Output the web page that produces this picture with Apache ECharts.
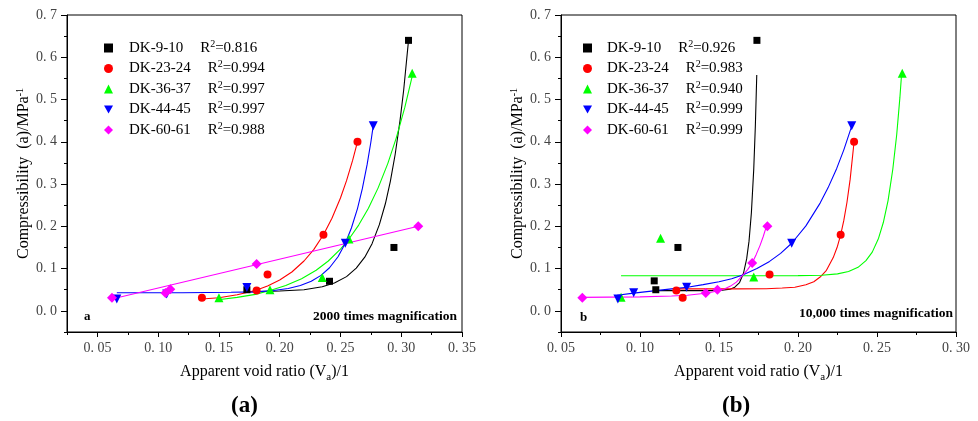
<!DOCTYPE html>
<html><head><meta charset="utf-8">
<script src="https://cdn.jsdelivr.net/npm/echarts@6/dist/echarts.min.js"></script>
<style>html,body{margin:0;padding:0;background:#fff}#c{width:978px;height:421px}</style>
</head><body><div id="c"></div>
<script>
// ---------- data ----------
const seriesNames = ['DK-9-10','DK-23-24','DK-36-37','DK-44-45','DK-60-61'];
const r2A = ['0.816','0.994','0.997','0.997','0.988'];
const r2B = ['0.926','0.983','0.940','0.999','0.999'];

// panel (a) measured points [void ratio, compressibility]
const ptsA_9  = [[0.306,0.64],[0.294,0.15],[0.241,0.07],[0.173,0.05]];
const ptsA_23 = [[0.264,0.40],[0.236,0.18],[0.190,0.086],[0.181,0.048],[0.136,0.031]];
const ptsA_36 = [[0.309,0.562],[0.257,0.17],[0.235,0.079],[0.192,0.05],[0.150,0.031]];
const ptsA_44 = [[0.277,0.438],[0.254,0.16],[0.173,0.055],[0.107,0.04],[0.066,0.028]];
const ptsA_60 = [[0.314,0.20],[0.181,0.111],[0.110,0.051],[0.106,0.042],[0.062,0.031]];
// panel (a) fitted curves
const fitA_9  = [[0.173,0.045],[0.20,0.047],[0.22,0.050],[0.235,0.057],[0.245,0.066],[0.255,0.081],[0.263,0.101],[0.270,0.127],[0.276,0.159],[0.282,0.204],[0.287,0.254],[0.291,0.306],[0.295,0.370],[0.299,0.450],[0.302,0.522],[0.306,0.64]];
const fitA_23 = [[0.136,0.028],[0.15,0.031],[0.165,0.038],[0.18,0.048],[0.19,0.059],[0.20,0.073],[0.21,0.092],[0.22,0.118],[0.228,0.145],[0.236,0.18],[0.243,0.219],[0.25,0.267],[0.255,0.308],[0.26,0.356],[0.264,0.40]];
const fitA_36 = [[0.151,0.027],[0.165,0.032],[0.18,0.039],[0.192,0.048],[0.205,0.060],[0.218,0.076],[0.23,0.096],[0.24,0.118],[0.25,0.146],[0.257,0.17],[0.265,0.203],[0.273,0.243],[0.281,0.291],[0.289,0.349],[0.296,0.410],[0.303,0.482],[0.309,0.555]];
const fitA_44 = [[0.066,0.043],[0.12,0.043],[0.16,0.044],[0.18,0.045],[0.195,0.048],[0.207,0.053],[0.217,0.060],[0.226,0.070],[0.234,0.084],[0.241,0.102],[0.248,0.128],[0.254,0.16],[0.259,0.196],[0.264,0.242],[0.268,0.289],[0.272,0.347],[0.275,0.399],[0.277,0.439]];
const fitA_60 = [[0.062,0.028],[0.314,0.20]];

// panel (b) measured points
const ptsB_9  = [[0.174,0.64],[0.124,0.15],[0.109,0.071],[0.110,0.05]];
const ptsB_23 = [[0.2355,0.40],[0.227,0.18],[0.182,0.086],[0.123,0.048],[0.127,0.031]];
const ptsB_36 = [[0.266,0.562],[0.113,0.172],[0.172,0.08],[0.088,0.032]];
const ptsB_44 = [[0.234,0.438],[0.196,0.16],[0.1295,0.056],[0.096,0.043],[0.086,0.028]];
const ptsB_60 = [[0.1806,0.20],[0.171,0.113],[0.149,0.05],[0.1416,0.042],[0.0635,0.031]];
// panel (b) fitted curves
const fitB_9  = [[0.109,0.048],[0.13,0.048],[0.145,0.048],[0.152,0.049],[0.157,0.051],[0.160,0.056],[0.163,0.067],[0.1655,0.089],[0.1675,0.123],[0.169,0.165],[0.1705,0.232],[0.172,0.336],[0.173,0.437],[0.1739,0.558]];
const fitB_23 = [[0.123,0.052],[0.16,0.052],[0.18,0.0525],[0.19,0.054],[0.198,0.056],[0.205,0.062],[0.21,0.069],[0.214,0.080],[0.218,0.096],[0.2223,0.126],[0.225,0.153],[0.227,0.18],[0.229,0.214],[0.231,0.257],[0.233,0.311],[0.2355,0.40]];
const fitB_36 = [[0.088,0.083],[0.15,0.083],[0.20,0.0833],[0.215,0.0844],[0.225,0.0875],[0.232,0.093],[0.238,0.103],[0.243,0.119],[0.247,0.139],[0.251,0.172],[0.254,0.209],[0.257,0.261],[0.26,0.335],[0.2625,0.418],[0.2645,0.505],[0.2656,0.562]];
const fitB_44 = [[0.0855,0.037],[0.096,0.042],[0.11,0.048],[0.12,0.052],[0.13,0.056],[0.14,0.062],[0.15,0.069],[0.158,0.076],[0.165,0.085],[0.174,0.10],[0.182,0.117],[0.189,0.136],[0.196,0.16],[0.205,0.201],[0.214,0.255],[0.219,0.291],[0.2245,0.337],[0.229,0.381],[0.234,0.437]];
const fitB_60 = [[0.063,0.032],[0.08,0.0325],[0.10,0.033],[0.12,0.035],[0.13,0.037],[0.14,0.041],[0.145,0.044],[0.149,0.047],[0.153,0.051],[0.157,0.058],[0.161,0.068],[0.1654,0.086],[0.168,0.097],[0.171,0.113],[0.1735,0.133],[0.176,0.155],[0.178,0.176],[0.180,0.20]];

// axes ticks / labels
const yTicks = [0,0.1,0.2,0.3,0.4,0.5,0.6,0.7];
const yTickLabels = ['0. 0','0. 1','0. 2','0. 3','0. 4','0. 5','0. 6','0. 7'];
const yMinorTicks = [-0.05,0.05,0.15,0.25,0.35,0.45,0.55,0.65];
const xTicksA = [0.05,0.10,0.15,0.20,0.25,0.30,0.35];
const xTickLabelsA = ['0. 05','0. 10','0. 15','0. 20','0. 25','0. 30','0. 35'];
const xMinorTicksA = [0.025,0.075,0.125,0.175,0.225,0.275,0.325];
const xTicksB = [0.05,0.10,0.15,0.20,0.25,0.30];
const xTickLabelsB = ['0. 05','0. 10','0. 15','0. 20','0. 25','0. 30'];
const xMinorTicksB = [0.075,0.125,0.175,0.225,0.275];

const colors = ['#000000','#ff0000','#00ff00','#0000ff','#ff00ff'];
const symbols = ['rect','circle','triangle','triangle','diamond'];
const legendIcons = ['rect','circle','triangle','path://M0,0L10,0L5,9Z','diamond'];
const symbolRot = [0,0,0,180,0];
const symbolSizes = [7,8,9,9,10];

// ---------- chart ----------
const SERIF = '"Liberation Serif","Times New Roman",serif';
const chart = echarts.init(document.getElementById('c'), null, {renderer:'canvas'});

function lab(vals, labels){ return function(v){ for(let i=0;i<vals.length;i++){ if(Math.abs(vals[i]-v)<1e-6) return labels[i]; } return ''; }; }

const grids = [
  {left:67, top:15, width:395, height:317, show:true, borderColor:'#000', borderWidth:1, backgroundColor:'transparent'},
  {left:561, top:15, width:395, height:317, show:true, borderColor:'#000', borderWidth:1, backgroundColor:'transparent'}
];

const nameRichX = {n:{fontFamily:SERIF,fontSize:16,color:'#000'}, sub:{fontFamily:SERIF,fontSize:11,color:'#000',verticalAlign:'bottom',lineHeight:22}};
function xMajor(g, min, max, ticks, labels){
  return {type:'value', gridIndex:g, min:min, max:max, position:'bottom',
    axisLine:{show:true,onZero:false,lineStyle:{color:'#000',width:1}},
    axisTick:{show:true, inside:false, length:5, customValues:ticks, lineStyle:{color:'#000'}},
    axisLabel:{show:true, customValues:ticks, formatter:lab(ticks,labels), margin:9, fontFamily:SERIF, fontSize:14, color:'#444'},
    splitLine:{show:false},
    name:'{n|Apparent void ratio (V}{sub|a}{n|)/1}', nameLocation:'middle', nameGap:29,
    nameTextStyle:{rich:nameRichX}
  };
}
function xMinor(g, min, max, ticks){
  return {type:'value', gridIndex:g, min:min, max:max, position:'bottom',
    axisLine:{show:false,onZero:false}, axisLabel:{show:false}, splitLine:{show:false},
    axisTick:{show:true, inside:false, length:3, customValues:ticks, lineStyle:{color:'#000'}}};
}
const nameRichY = {n:{fontFamily:SERIF,fontSize:16,color:'#000'}, s:{fontFamily:SERIF,fontSize:10,color:'#000',verticalAlign:'top',lineHeight:18}};
function yMajor(g){
  return {type:'value', gridIndex:g, min:-0.05, max:0.7, position:'left',
    axisLine:{show:true,onZero:false,lineStyle:{color:'#000',width:1}},
    axisTick:{show:true, inside:false, length:6, customValues:yTicks, lineStyle:{color:'#000'}},
    axisLabel:{show:true, customValues:yTicks, formatter:lab(yTicks,yTickLabels), margin:10, fontFamily:SERIF, fontSize:14, color:'#444'},
    splitLine:{show:false},
    name:'{n|Compressibility  (a)/MPa}{s|-1}', nameLocation:'middle', nameGap:23, nameRotate:90,
    nameTextStyle:{rich:nameRichY}
  };
}
function yMinor(g){
  return {type:'value', gridIndex:g, min:-0.05, max:0.7, position:'left',
    axisLine:{show:false,onZero:false}, axisLabel:{show:false}, splitLine:{show:false},
    axisTick:{show:true, inside:false, length:3, customValues:yMinorTicks, lineStyle:{color:'#000'}}};
}

const ptsA = [ptsA_9, ptsA_23, ptsA_36, ptsA_44, ptsA_60];
const fitA = [fitA_9, fitA_23, fitA_36, fitA_44, fitA_60];
const ptsB = [ptsB_9, ptsB_23, ptsB_36, ptsB_44, ptsB_60];
const fitB = [fitB_9, fitB_23, fitB_36, fitB_44, fitB_60];

const series = [];
function addPanel(pts, fits, xi, yi, tag){
  for(let i=0;i<seriesNames.length;i++){
    series.push({type:'line', name:'fit'+tag+i, xAxisIndex:xi, yAxisIndex:yi, data:fits[i],
      showSymbol:false, symbol:'none', smooth:false, silent:true, z:2,
      lineStyle:{color:colors[i], width:1.1}});
  }
  for(let i=0;i<seriesNames.length;i++){
    series.push({type:'scatter', name:seriesNames[i], xAxisIndex:xi, yAxisIndex:yi, data:pts[i],
      symbol:symbols[i], symbolRotate:symbolRot[i], symbolSize:symbolSizes[i], z:5,
      itemStyle:{color:colors[i], opacity:1}});
  }
}
addPanel(ptsA, fitA, 0, 0, 'a');
addPanel(ptsB, fitB, 2, 2, 'b');

function legendFor(r2, left, pad){
  return {show:true, orient:'vertical', left:left, top:34, itemWidth:9, itemHeight:9, itemGap:4,
    data:seriesNames.map(function(n,i){return {name:n, icon:legendIcons[i], itemStyle:{color:colors[i]}};}),
    selectedMode:false,
    formatter:function(name){ const i = seriesNames.indexOf(name); return '{n|'+name+'}{r0|R}{s|2}{r|='+r2[i]+'}'; },
    textStyle:{rich:{
      n:{fontFamily:SERIF,fontSize:15,color:'#000',lineHeight:18,padding:[0,0,0,pad]},
      r0:{fontFamily:SERIF,fontSize:15,color:'#000',lineHeight:18,padding:[0,0,0,17]},
      r:{fontFamily:SERIF,fontSize:15,color:'#000',lineHeight:18},
      s:{fontFamily:SERIF,fontSize:10,color:'#000',lineHeight:18,verticalAlign:'top'}
    }}
  };
}

const option = {
  backgroundColor:'#fff',
  animation:false,
  grid:grids,
  xAxis:[xMajor(0,0.025,0.35,xTicksA,xTickLabelsA), xMinor(0,0.025,0.35,xMinorTicksA),
         xMajor(1,0.05,0.30,xTicksB,xTickLabelsB), xMinor(1,0.05,0.30,xMinorTicksB)],
  yAxis:[yMajor(0), yMinor(0), yMajor(1), yMinor(1)],
  legend:[legendFor(r2A, 99, 11), legendFor(r2B, 578, 10)],
  series:series,
  graphic:[
    {type:'text', left:84, top:310, style:{text:'a', font:'bold 13px '+SERIF, fill:'#000'}},
    {type:'text', right:978-457, top:310, style:{text:'2000 times magnification', font:'bold 13.5px '+SERIF, fill:'#000', textAlign:'right'}},
    {type:'text', left:580, top:311, style:{text:'b', font:'bold 13px '+SERIF, fill:'#000'}},
    {type:'text', right:978-953, top:307, style:{text:'10,000 times magnification', font:'bold 13.5px '+SERIF, fill:'#000', textAlign:'right'}},
    {type:'text', left:231, top:395, style:{text:'(a)', font:'bold 23px '+SERIF, fill:'#000'}},
    {type:'text', left:722, top:395, style:{text:'(b)', font:'bold 23px '+SERIF, fill:'#000'}}
  ]
};
chart.setOption(option);
</script></body></html>
